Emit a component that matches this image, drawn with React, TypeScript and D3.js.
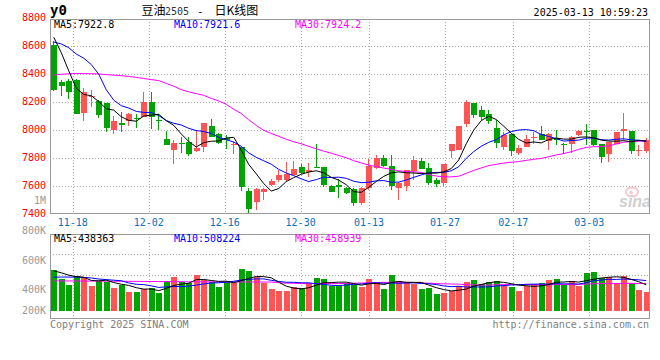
import React, { useEffect, useRef } from "react";
import * as d3 from "d3";

// 豆油2505 daily K-line, 2024-11-13 .. 2025-03-13
const opens = [
  8610, 8348, 8355, 8360, 8127, 8240, 8210, 8197, 7999, 8050,
  8066, 8090, 8095, 8204, 8075, 7940, 7860, 7911, 7918, 7852,
  7878, 8030, 7975, 7945, 7895, 7883, 7567, 7490, 7557, 7610,
  7642, 7643, 7684, 7740, 7705, 7740, 7740, 7605, 7610, 7590,
  7584, 7482, 7586, 7729, 7805, 7748, 7586, 7605, 7712, 7781,
  7731, 7645, 7623, 7855, 7860, 8047, 8197, 8144, 8120, 8013,
  7883, 7975, 7840, 7883, 7945, 7972, 7926, 7942, 7902, 7900,
  7968, 7998, 8001, 7902, 7829, 7902, 7995, 7995, 7858, 7855,
];
const highs = [
  8640, 8360, 8368, 8370, 8302, 8290, 8216, 8197, 8105, 8129,
  8123, 8120, 8275, 8276, 8120, 7998, 7930, 7955, 7955, 8000,
  8050, 8079, 7978, 7963, 7918, 7883, 7588, 7590, 7590, 7655,
  7715, 7775, 7780, 7757, 7764, 7902, 7740, 7606, 7652, 7592,
  7586, 7597, 7793, 7824, 7824, 7824, 7630, 7717, 7816, 7800,
  7769, 7657, 7762, 7905, 8032, 8216, 8198, 8173, 8147, 8077,
  7987, 7976, 7895, 7968, 7988, 8030, 7978, 8001, 7906, 7958,
  8000, 8045, 8003, 7903, 7919, 7990, 8126, 7998, 7895, 7943,
];
const lows = [
  8280, 8245, 8222, 8115, 8067, 8165, 8090, 7990, 7975, 7990,
  8030, 8020, 8092, 8006, 8004, 7892, 7762, 7835, 7816, 7845,
  7845, 7954, 7900, 7864, 7830, 7565, 7410, 7430, 7500, 7605,
  7633, 7635, 7680, 7690, 7669, 7728, 7592, 7558, 7515, 7545,
  7458, 7468, 7574, 7725, 7738, 7572, 7500, 7565, 7645, 7724,
  7610, 7592, 7600, 7800, 7858, 8026, 8090, 8073, 8044, 7876,
  7859, 7816, 7826, 7883, 7900, 7930, 7860, 7892, 7833, 7840,
  7960, 7898, 7888, 7770, 7776, 7902, 7931, 7831, 7817, 7840,
];
const closes = [
  8290, 8319, 8276, 8119, 8276, 8245, 8110, 8019, 8069, 8040,
  8117, 8079, 8205, 8098, 8069, 7895, 7907, 7900, 7829, 7876,
  8050, 7955, 7912, 7932, 7902, 7593, 7440, 7580, 7578, 7638,
  7684, 7690, 7722, 7698, 7717, 7729, 7612, 7562, 7598, 7555,
  7479, 7590, 7745, 7800, 7742, 7605, 7622, 7717, 7788, 7724,
  7624, 7619, 7762, 7905, 8032, 8204, 8109, 8093, 8066, 7912,
  7967, 7855, 7876, 7935, 7950, 7933, 7975, 7931, 7894, 7953,
  7996, 7992, 7895, 7812, 7919, 7990, 8012, 7855, 7862, 7931,
];
// volume in thousands of lots
const volumes = [
  690, 537, 436, 588, 576, 419, 503, 492, 385, 436,
  317, 317, 368, 390, 305, 503, 566, 481, 464, 605,
  520, 481, 407, 481, 464, 707, 673, 566, 464, 368,
  334, 339, 407, 390, 464, 559, 537, 424, 424, 464,
  436, 407, 537, 464, 363, 605, 503, 464, 453, 363,
  380, 283, 305, 339, 424, 481, 520, 453, 481, 503,
  436, 407, 334, 424, 453, 475, 520, 537, 436, 503,
  424, 634, 651, 549, 566, 460, 590, 475, 355, 310,
];

const ma5 = [
  8665, 8555, 8425, 8300, 8256, 8247, 8205, 8154, 8144, 8097,
  8071, 8065, 8102, 8108, 8114, 8069, 8035, 7974, 7920, 7881,
  7912, 7922, 7924, 7945, 7950, 7859, 7756, 7689, 7619, 7566,
  7584, 7634, 7662, 7686, 7702, 7711, 7696, 7664, 7644, 7611,
  7561, 7557, 7593, 7634, 7671, 7696, 7703, 7697, 7695, 7691,
  7695, 7694, 7703, 7727, 7788, 7904, 8002, 8069, 8101, 8077,
  8029, 7979, 7935, 7909, 7917, 7910, 7934, 7945, 7937, 7937,
  7950, 7953, 7946, 7930, 7923, 7922, 7926, 7918, 7928, 7923,
];
const ma10 = [
  8630, 8617, 8590, 8545, 8515, 8470, 8400, 8290, 8215, 8176,
  8159, 8135, 8128, 8126, 8105, 8070, 8050, 8038, 8014, 7998,
  7991, 7978, 7949, 7933, 7916, 7886, 7839, 7807, 7782, 7758,
  7721, 7695, 7676, 7653, 7634, 7648, 7665, 7663, 7665, 7657,
  7636, 7626, 7629, 7639, 7641, 7629, 7630, 7645, 7664, 7681,
  7696, 7699, 7700, 7711, 7740, 7800, 7848, 7886, 7914, 7933,
  7967, 7991, 8002, 8005, 7997, 7970, 7956, 7940, 7923, 7927,
  7930, 7944, 7945, 7933, 7930, 7936, 7939, 7932, 7929, 7922,
];
const ma30 = [
  8395, 8400, 8404, 8405, 8405, 8404, 8402, 8398, 8394, 8390,
  8385, 8378, 8370, 8362, 8355, 8335, 8315, 8290, 8275, 8262,
  8250, 8228, 8210, 8185, 8150, 8120, 8075, 8035, 8000, 7977,
  7957, 7936, 7918, 7904, 7885, 7868, 7851, 7836, 7820, 7804,
  7783, 7767, 7751, 7741, 7730, 7721, 7711, 7705, 7704, 7699,
  7684, 7673, 7668, 7667, 7672, 7692, 7714, 7731, 7748, 7757,
  7766, 7772, 7777, 7785, 7793, 7799, 7811, 7824, 7834, 7847,
  7864, 7878, 7883, 7883, 7889, 7902, 7915, 7919, 7922, 7924,
];
const volMa5 = [
  673, 640, 600, 575, 565, 511, 504, 516, 475, 447,
  427, 389, 365, 366, 339, 377, 426, 449, 464, 524,
  527, 510, 495, 499, 471, 508, 546, 578, 575, 556,
  481, 414, 382, 368, 387, 432, 471, 475, 482, 482,
  457, 431, 454, 462, 441, 475, 494, 480, 478, 478,
  433, 389, 357, 334, 346, 366, 414, 443, 472, 488,
  479, 456, 432, 421, 411, 419, 441, 482, 484, 494,
  484, 507, 530, 552, 565, 572, 563, 528, 489, 438,
];
const volMa10 = [
  566, 568, 568, 566, 562, 552, 535, 525, 515, 506,
  469, 447, 440, 420, 393, 402, 408, 407, 415, 432,
  452, 468, 472, 481, 497, 518, 528, 537, 537, 513,
  495, 480, 480, 471, 471, 456, 443, 429, 425, 434,
  444, 451, 464, 472, 462, 466, 463, 467, 470, 460,
  454, 442, 418, 406, 412, 400, 401, 400, 403, 417,
  423, 435, 438, 446, 449, 449, 449, 457, 453, 453,
  451, 474, 506, 518, 530, 528, 535, 529, 521, 508,
];
const volMa30 = [
  503, 503, 502, 502, 501, 500, 500, 499, 498, 497,
  496, 495, 494, 493, 492, 491, 490, 489, 488, 488,
  487, 487, 486, 486, 486, 485, 485, 485, 484, 484,
  472, 465, 464, 458, 454, 459, 460, 457, 459, 460,
  464, 467, 472, 475, 477, 480, 478, 477, 477, 469,
  464, 458, 454, 450, 448, 441, 436, 432, 432, 437,
  440, 443, 440, 441, 441, 438, 438, 441, 442, 443,
  443, 450, 454, 457, 464, 459, 462, 462, 459, 459,
];

const dateLabels = ["11-18", "12-02", "12-16", "12-30", "01-13", "01-27", "02-17", "03-03"];
const dateIndex = [3, 13, 23, 33, 42, 52, 61, 71];
const priceTicks = [8800, 8600, 8400, 8200, 8000, 7800, 7600, 7400];
const volTickLabels = ["800K", "600K", "400K", "200K"];

const MONO = "'DejaVu Sans Mono', monospace";
const RED = "#ff5454";
const GREEN = "#00a400";

const App = () => {
  const svgRef = useRef<SVGSVGElement>(null);

  useEffect(() => {
    const svg = d3.select(svgRef.current);
    svg.selectAll("*").remove();

    const left = 50;
    const right = 650;
    const top = 19;
    const bottom = 213;
    const vTop = 234;
    const vBottom = 318;
    const vBase = 310.7;
    const n = closes.length;

    const x = d3.scaleBand<number>().domain(d3.range(n)).range([left, right]);
    const cx = (i: number) => (x(i) as number) + x.bandwidth() / 2;
    // date gridlines are spaced over n-1 intervals in the original
    const xGrid = d3.scaleLinear().domain([0, n - 1]).range([left, right]);
    const y = d3.scaleLinear().domain([7400, 8800]).range([214.3, 18.3]);
    const yv = d3.scaleLinear().domain([0, 1295]).range([vBase, vTop]);

    svg.append("rect").attr("width", 660).attr("height", 360).attr("fill", "#fff");

    const grid = svg.append("g").attr("stroke", "#aaa").attr("stroke-dasharray", "1,2").attr("shape-rendering", "crispEdges");
    priceTicks.slice(1, -1).forEach((p) => {
      const yy = Math.round(y(p)) + 0.5;
      grid.append("line").attr("x1", left).attr("x2", right).attr("y1", yy).attr("y2", yy);
    });
    [254.5, 275.5, 295.5].forEach((yy) => {
      grid.append("line").attr("x1", left).attr("x2", right).attr("y1", yy).attr("y2", yy);
    });
    dateIndex.forEach((di) => {
      const xx = Math.round(xGrid(di)) + 0.5;
      grid.append("line").attr("x1", xx).attr("x2", xx).attr("y1", top).attr("y2", bottom);
      grid.append("line").attr("x1", xx).attr("x2", xx).attr("y1", vTop).attr("y2", vBottom);
    });

    // candles
    const candles = svg.append("g").attr("shape-rendering", "crispEdges");
    closes.forEach((c, i) => {
      const o = opens[i];
      const col = c >= o ? RED : GREEN;
      const xb = Math.round(x(i) as number) + 1;
      candles.append("rect").attr("x", xb + 2).attr("width", 1)
        .attr("y", y(highs[i])).attr("height", Math.max(1, y(lows[i]) - y(highs[i]))).attr("fill", col);
      const y0 = y(Math.max(o, c));
      const h = Math.max(1, y(Math.min(o, c)) - y0);
      candles.append("rect").attr("x", xb).attr("width", 6).attr("y", y0).attr("height", h).attr("fill", col);
      const vy = yv(volumes[i]);
      candles.append("rect").attr("x", xb).attr("width", 6).attr("y", vy).attr("height", vBase - vy).attr("fill", col);
    });

    const priceLine = d3.line<number>().x((d, i) => cx(i)).y((d) => y(d));
    const volLine = d3.line<number>().x((d, i) => cx(i)).y((d) => yv(d));
    [[ma30, "#ff00ff"], [ma10, "#0000ff"], [ma5, "#000"]].forEach(([arr, col]) => {
      svg.append("path").attr("d", priceLine(arr as number[])).attr("fill", "none").attr("stroke", col as string).attr("stroke-width", 1);
    });
    [[volMa30, "#ff00ff"], [volMa10, "#0000ff"], [volMa5, "#000"]].forEach(([arr, col]) => {
      svg.append("path").attr("d", volLine(arr as number[])).attr("fill", "none").attr("stroke", col as string).attr("stroke-width", 1);
    });

    // frames
    const frame = svg.append("g").attr("fill", "none").attr("stroke", "#999").attr("shape-rendering", "crispEdges");
    frame.append("rect").attr("x", left + 0.5).attr("y", top + 0.5).attr("width", right - left - 1).attr("height", bottom - top);
    frame.append("rect").attr("x", left + 0.5).attr("y", vTop + 0.5).attr("width", right - left - 1).attr("height", vBottom - vTop);

    const txt = (s: string, xx: number, yy: number, fill: string, anchor = "start", size = 10) =>
      svg.append("text").attr("x", xx).attr("y", yy).attr("fill", fill).attr("text-anchor", anchor)
        .attr("font-family", MONO).attr("font-size", size).text(s);

    priceTicks.forEach((p) => txt(String(p), 46, y(p) + 2.5, "#f00", "end"));
    txt("1M", 46, 204, "#999", "end");
    const volLabelY = [234.3, 264.3, 293.3, 313.7];
    volTickLabels.forEach((s, i) => txt(s, 46, volLabelY[i], "#999", "end"));
    dateLabels.forEach((s, i) => txt(s, xGrid(dateIndex[i]), 225.5, "#0a70c0", "middle"));

    txt("MA5:7922.8", 54, 27.5, "#000");
    txt("MA10:7921.6", 174, 27.5, "#0000ff");
    txt("MA30:7924.2", 295, 27.5, "#ff00ff");
    txt("MA5:438363", 54, 242, "#000");
    txt("MA10:508224", 174, 242, "#0000ff");
    txt("MA30:458939", 295, 242, "#ff00ff");

    txt("Copyright 2025 SINA.COM", 50, 328, "#808080");
    txt("http://finance.sina.com.cn", 649, 328, "#808080", "end");
    txt("2025-03-13 10:59:23", 648, 15.5, "#000", "end");
    txt("y0", 50, 15, "#000", "start", 14).attr("font-weight", "bold");

    const cjk = "'Noto Sans CJK SC', sans-serif";
    svg.append("text").attr("x", 141.5).attr("y", 14.5).attr("font-family", cjk).attr("font-size", 12).text("豆油");
    txt("2505", 165, 14.5, "#333");
    txt("-", 197, 14.5, "#000", "start", 11);
    svg.append("text").attr("x", 214.5).attr("y", 14.5).attr("font-family", cjk).attr("font-size", 12).text("日K线图");

    // sina watermark
    const wm = svg.append("g").attr("opacity", 0.55);
    wm.append("ellipse").attr("cx", 632).attr("cy", 192).attr("rx", 6).attr("ry", 4.5)
      .attr("fill", "none").attr("stroke", "#f0a0a0").attr("stroke-width", 2);
    wm.append("circle").attr("cx", 631).attr("cy", 192.5).attr("r", 1.8).attr("fill", "#f0a0a0");
    wm.append("text").attr("x", 619).attr("y", 207).attr("font-family", "'Liberation Sans', sans-serif")
      .attr("font-size", 16).attr("font-style", "italic").attr("font-weight", "bold").attr("fill", "#aaa").text("sina");
  }, []);

  return (
    <svg
      ref={svgRef}
      width={660}
      height={360}
      style={{ position: "absolute", left: 0, top: 0, display: "block" }}
    />
  );
};

export default App;
